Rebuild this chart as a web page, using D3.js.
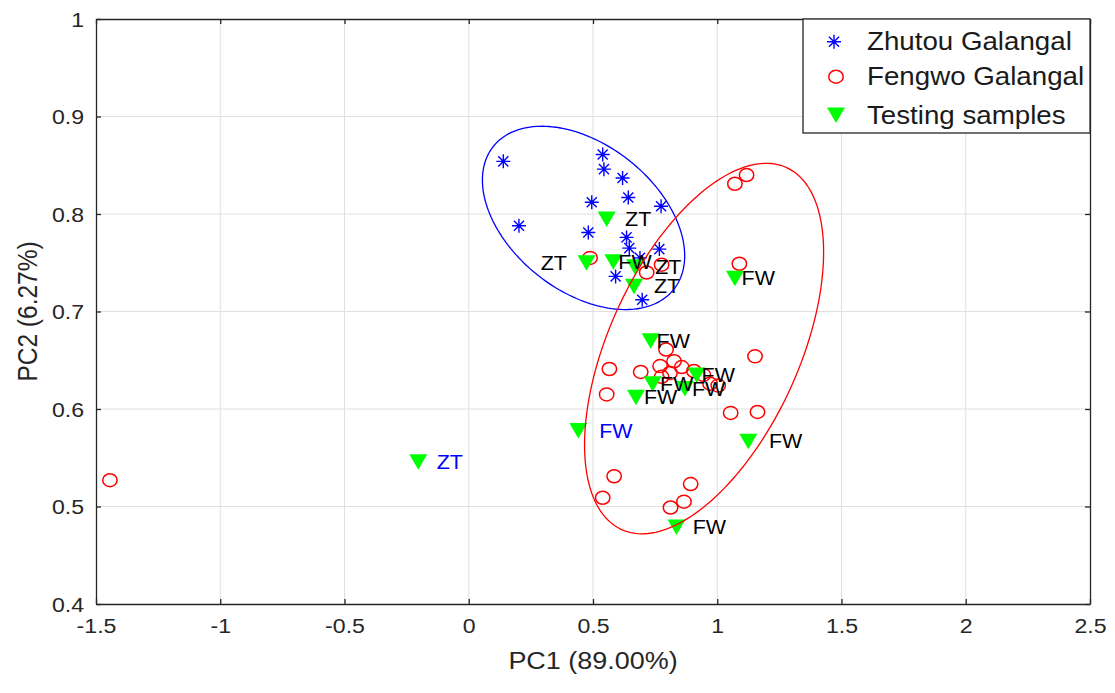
<!DOCTYPE html>
<html>
<head>
<meta charset="utf-8">
<script src="https://cdn.jsdelivr.net/npm/d3@7"></script>
<style>
  body { margin: 0; background: #fff; }
  svg { display: block; font-family: "Liberation Sans", Arial, sans-serif; }
</style>
</head>
<body>
<div id="chart"></div>
<script>
//data (PC1, PC2)
var zhutouX = [0.139, 0.539, 0.544, 0.619, 0.642, 0.774, 0.495, 0.202, 0.481, 0.635, 0.646, 0.767, 0.689, 0.591, 0.698];
var zhutouY = [0.854, 0.861, 0.846, 0.837, 0.817, 0.808, 0.812, 0.788, 0.781, 0.776, 0.765, 0.764, 0.755, 0.736, 0.712];

var fengwoX = [-1.444, 0.488, 0.716, 0.776, 1.071, 1.118, 1.089, 0.794, 0.566, 0.692, 0.555, 0.770, 0.826, 0.857,
               0.776, 0.810, 0.906, 0.944, 0.971, 1.004, 1.152, 1.054, 1.162, 0.585, 0.539, 0.893, 0.866, 0.812];
var fengwoY = [0.527, 0.755, 0.740, 0.748, 0.831, 0.840, 0.749, 0.661, 0.641, 0.638, 0.615, 0.644, 0.649, 0.643,
               0.633, 0.637, 0.639, 0.635, 0.626, 0.624, 0.654, 0.596, 0.597, 0.531, 0.509, 0.523, 0.505, 0.499];

var testX = [0.555, 0.474, 0.582, 0.669, 0.665, 1.071, 0.732, 0.740, 0.673, 0.870, 0.917, 0.441, 1.125, 0.836, -0.203];
var testY = [0.795, 0.750, 0.751, 0.746, 0.726, 0.734, 0.670, 0.626, 0.612, 0.621, 0.635, 0.578, 0.567, 0.479, 0.546];
var testLabel = ["ZT", "ZT", "FW", "ZT", "ZT", "FW", "FW", "FW", "FW", "FW", "FW", "FW", "FW", "FW", "ZT"];
var labelX = [0.629, 0.395, 0.602, 0.750, 0.745, 1.098, 0.756, 0.770, 0.705, 0.898, 0.937, 0.525, 1.208, 0.901, -0.129];
var labelSide = ["r", "l", "r", "r", "r", "r", "r", "r", "r", "r", "r", "r", "r", "r", "r"];
var labelBlue = [false, false, false, false, false, false, false, false, false, false, false, true, false, false, true];

//confidence ellipses: centre, half width, half height, correlation
var ellipseCx = [0.462, 0.947];
var ellipseCy = [0.796, 0.662];
var ellipseSx = [0.407, 0.481];
var ellipseSy = [0.094, 0.190];
var ellipseRho = [-0.413, 0.520];
var ellipseColor = ["#0000ff", "#ff0000"];

var xTicks = [-1.5, -1, -0.5, 0, 0.5, 1, 1.5, 2, 2.5];
var yTicks = [0.4, 0.5, 0.6, 0.7, 0.8, 0.9, 1];
var legendNames = ["Zhutou Galangal", "Fengwo Galangal", "Testing samples"];

//the picture is a little wider than tall, so text gets stretched sideways
var sx = 1.1;
var axisColor = "#262626";

var margin = {top: 19, right: 25, bottom: 89, left: 96},
    width = 1115 - margin.left - margin.right,
    height = 693 - margin.top - margin.bottom;

var svg = d3.select("#chart")
  .append("svg")
    .attr("width", 1115)
    .attr("height", 693)
  .append("g")
    .attr("transform", "translate(" + margin.left + "," + margin.top + ")");

var x = d3.scaleLinear().domain([-1.5, 2.5]).range([0, width]);
var y = d3.scaleLinear().domain([0.4, 1]).range([height, 0]);

//grid
svg.append("g")
  .selectAll("line.vgrid")
  .data(xTicks.slice(1, -1))
  .enter().append("line")
    .attr("x1", d => x(d)).attr("x2", d => x(d))
    .attr("y1", 0).attr("y2", height)
    .attr("stroke", "#dfdfdf").attr("stroke-width", 1);
svg.append("g")
  .selectAll("line.hgrid")
  .data(yTicks.slice(1, -1))
  .enter().append("line")
    .attr("x1", 0).attr("x2", width)
    .attr("y1", d => y(d)).attr("y2", d => y(d))
    .attr("stroke", "#dfdfdf").attr("stroke-width", 1);

//axes, ticks point inwards on all four sides
var xAxis = d3.axisBottom(x).tickValues(xTicks).tickSizeInner(-5).tickSizeOuter(0).tickPadding(14)
  .tickFormat(d => String(d));
var yAxis = d3.axisLeft(y).tickValues(yTicks).tickSizeInner(-5).tickSizeOuter(0).tickPadding(12)
  .tickFormat(d => String(d));

var gx = svg.append("g").attr("transform", "translate(0," + height + ")").call(xAxis);
var gy = svg.append("g").call(yAxis);
svg.append("g").call(d3.axisTop(x).tickValues(xTicks).tickSizeInner(-5).tickSizeOuter(0).tickFormat(""));
svg.append("g").attr("transform", "translate(" + width + ",0)")
  .call(d3.axisRight(y).tickValues(yTicks).tickSizeInner(-5).tickSizeOuter(0).tickFormat(""));

svg.selectAll(".domain").attr("stroke", axisColor).attr("stroke-width", 1.3);
svg.selectAll(".tick line").attr("stroke", axisColor).attr("stroke-width", 1.3);
gx.selectAll("text")
  .attr("font-size", 21).attr("fill", axisColor)
  .attr("dy", "0.71em")
  .attr("transform", "scale(" + sx + ",1)");
gy.selectAll("text")
  .attr("font-size", 21).attr("fill", axisColor)
  .attr("x", -12 / sx).attr("dy", "0.35em")
  .attr("transform", "scale(" + sx + ",1)");

//axis titles
svg.append("text")
  .attr("transform", "translate(" + (width / 2) + "," + (height + 56) + ") scale(" + sx + ",1)")
  .attr("text-anchor", "middle").attr("dominant-baseline", "central")
  .attr("font-size", 24.5).attr("fill", axisColor)
  .text("PC1 (89.00%)");
svg.append("text")
  .attr("transform", "translate(" + (28 - margin.left) + "," + (height / 2) + ") rotate(-90) scale(1," + sx + ")")
  .attr("text-anchor", "middle").attr("dominant-baseline", "central")
  .attr("font-size", 24.5).attr("fill", axisColor)
  .text("PC2 (6.27%)");

//marker drawing helpers
function starPath(r) {
  var d = r * 0.72;
  return "M0," + (-r) + "V" + r + "M" + (-r) + ",0H" + r +
    "M" + (-d) + "," + (-d) + "L" + d + "," + d + "M" + (-d) + "," + d + "L" + d + "," + (-d);
}
var triPath = "M-9,-7.5L9,-7.5L0,8Z";

var zhutou = zhutouX.map((v, i) => ({x: v, y: zhutouY[i]}));
var fengwo = fengwoX.map((v, i) => ({x: v, y: fengwoY[i]}));
var tests = testX.map((v, i) => ({x: v, y: testY[i], label: testLabel[i], lx: labelX[i],
  side: labelSide[i], blue: labelBlue[i]}));

svg.append("g").selectAll("path")
  .data(zhutou)
  .enter().append("path")
    .attr("transform", d => "translate(" + x(d.x) + "," + y(d.y) + ")")
    .attr("d", starPath(7))
    .attr("stroke", "#0000ff").attr("stroke-width", 1.4).attr("fill", "none");

svg.append("g").selectAll("ellipse")
  .data(fengwo)
  .enter().append("ellipse")
    .attr("cx", d => x(d.x)).attr("cy", d => y(d.y))
    .attr("rx", 7.2).attr("ry", 6.5)
    .attr("stroke", "#ff0000").attr("stroke-width", 1.5).attr("fill", "none");

svg.append("g").selectAll("path")
  .data(tests)
  .enter().append("path")
    .attr("transform", d => "translate(" + x(d.x) + "," + y(d.y) + ")")
    .attr("d", triPath)
    .attr("fill", "#00ff00");

svg.append("g").selectAll("text")
  .data(tests)
  .enter().append("text")
    .attr("transform", d => "translate(" + x(d.lx) + "," + y(d.y) + ") scale(" + sx + ",1)")
    .attr("text-anchor", d => d.side == "l" ? "end" : "start")
    .attr("dominant-baseline", "central")
    .attr("font-size", 19.5)
    .attr("fill", d => d.blue ? "#0000ff" : "#000000")
    .text(d => d.label);

//ellipses
var ts = d3.range(0, 361, 2).map(d => d * Math.PI / 180);
ellipseCx.forEach(function(cx, i) {
  var line = d3.line()
    .x(t => x(cx + ellipseSx[i] * Math.cos(t)))
    .y(t => y(ellipseCy[i] + ellipseSy[i] * (ellipseRho[i] * Math.cos(t) +
      Math.sqrt(1 - ellipseRho[i] * ellipseRho[i]) * Math.sin(t))));
  svg.append("path")
    .attr("d", line(ts))
    .attr("fill", "none")
    .attr("stroke", ellipseColor[i])
    .attr("stroke-width", 1.3);
});

//legend
var lgLeft = 803 - margin.left;
var lg = svg.append("g").attr("transform", "translate(" + lgLeft + ",0)");
lg.append("rect")
  .attr("x", 0).attr("y", 0).attr("width", width - lgLeft).attr("height", 114)
  .attr("fill", "#fff").attr("stroke", axisColor).attr("stroke-width", 1.3);
var rows = [22.7, 57.7, 96];
lg.append("path").attr("transform", "translate(31," + rows[0] + ")").attr("d", starPath(7))
  .attr("stroke", "#0000ff").attr("stroke-width", 1.4).attr("fill", "none");
lg.append("ellipse").attr("cx", 33).attr("cy", rows[1]).attr("rx", 7.2).attr("ry", 6.5)
  .attr("stroke", "#ff0000").attr("stroke-width", 1.5).attr("fill", "none");
lg.append("path").attr("transform", "translate(33," + rows[2] + ")").attr("d", triPath)
  .attr("fill", "#00ff00");
lg.selectAll("text.leg")
  .data(legendNames)
  .enter().append("text")
    .attr("transform", (d, i) => "translate(64," + rows[i] + ") scale(" + sx + ",1)")
    .attr("dominant-baseline", "central")
    .attr("font-size", 25.2)
    .attr("fill", "#1a1a1a")
    .text(d => d);
</script>
</body>
</html>
